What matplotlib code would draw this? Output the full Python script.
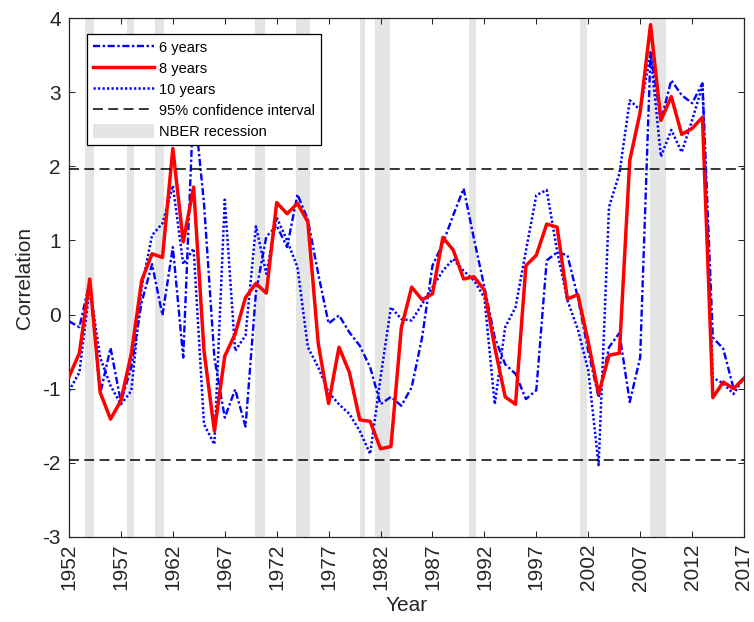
import numpy as np
import matplotlib.pyplot as plt
from matplotlib.patches import Patch

plt.rcParams['font.family'] = ['Liberation Sans', 'DejaVu Sans']

# rolling-window correlations, one value per year
years = np.arange(1952, 2018)

corr_6yr = [-0.09, -0.17, 0.45, -1.07, -0.45, -1.18, -0.71, 0.17, 0.68, -0.01,
            0.91, -0.58, 2.90, 1.50, -0.58, -1.39, -1.01, -1.51, 0.30, 1.05,
            1.20, 0.91, 1.62, 1.28, 0.55, -0.12, -0.01, -0.24, -0.42, -0.71,
            -1.21, -1.11, -1.23, -0.98, -0.31, 0.66, 0.96, 1.34, 1.70, 1.02,
            0.37, -0.31, -0.67, -0.80, -1.14, -1.02, 0.73, 0.84, 0.80, 0.23,
            -0.49, -1.12, -0.44, -0.25, -1.18, -0.58, 3.54, 2.62, 3.16, 2.96,
            2.85, 3.12, -0.31, -0.46, -1.00, -0.85]

corr_8yr = [-0.84, -0.52, 0.48, -1.05, -1.41, -1.16, -0.53, 0.46, 0.82, 0.77,
            2.24, 0.98, 1.72, -0.49, -1.57, -0.56, -0.26, 0.23, 0.42, 0.29,
            1.51, 1.36, 1.50, 1.25, -0.39, -1.20, -0.44, -0.78, -1.42, -1.44,
            -1.81, -1.78, -0.18, 0.37, 0.20, 0.28, 1.04, 0.87, 0.48, 0.51,
            0.33, -0.44, -1.11, -1.21, 0.66, 0.80, 1.22, 1.18, 0.21, 0.27,
            -0.37, -1.07, -0.55, -0.52, 2.08, 2.73, 3.91, 2.62, 2.94, 2.43,
            2.51, 2.66, -1.12, -0.91, -1.00, -0.86]

corr_10yr = [-1.03, -0.78, 0.37, -0.58, -0.96, -1.21, -1.03, 0.37, 1.07, 1.23,
             1.74, 0.68, 0.89, -1.48, -1.75, 1.55, -0.49, -0.28, 1.19, 0.55,
             1.31, 1.00, 0.64, -0.44, -0.71, -1.05, -1.21, -1.34, -1.57, -1.88,
             -0.85, 0.10, -0.06, -0.08, 0.14, 0.37, 0.59, 0.75, 0.59, 0.46,
             0.23, -1.21, -0.17, 0.10, 0.86, 1.61, 1.68, 0.86, 0.19, -0.20,
             -0.75, -2.03, 1.45, 1.90, 2.89, 2.76, 3.52, 2.13, 2.49, 2.19,
             2.62, 3.09, -0.85, -0.93, -1.07, -0.85]

# NBER recession periods (peak to trough)
rec_start = [1953.5, 1957.6, 1960.3, 1969.9, 1973.9, 1980.0, 1981.5, 1990.5, 2001.2, 2007.9]
rec_end = [1954.4, 1958.3, 1961.1, 1970.9, 1975.2, 1980.5, 1982.9, 1991.2, 2001.9, 2009.5]

conf_bound = 1.96
xtick_years = np.arange(1952, 2018, 5)
ytick_vals = np.arange(-3, 5)

axis_color = '#262626'
rec_color = '#e5e5e5'

fig = plt.figure(figsize=(7.54, 6.22), dpi=100)
ax = fig.add_axes([69 / 754, 1 - 537 / 622, 675 / 754, 519 / 622])

for s, e in zip(rec_start, rec_end):
    ax.axvspan(s, e, color=rec_color, lw=0, zorder=0)

l6, = ax.plot(years, corr_6yr, color='#0000ff', lw=1.7,
              dashes=(3, 1.1, 1, 1.1), zorder=3)
l8, = ax.plot(years, corr_8yr, color='#ff0000', lw=2.5, zorder=4)
l10, = ax.plot(years, corr_10yr, color='#0000ff', lw=1.8,
               dashes=(0.9, 0.9), zorder=3)
lc, = ax.plot([1952, 2017], [conf_bound, conf_bound], color='black', lw=1.1,
              dashes=(6.5, 3.5), zorder=5)
ax.plot([1952, 2017], [-conf_bound, -conf_bound], color='black', lw=1.1,
        dashes=(6.5, 3.5), zorder=5)

ax.set_xlim(1952, 2017)
ax.set_ylim(-3, 4)
ax.set_xticks(xtick_years)
ax.set_xticklabels([str(y) for y in xtick_years], rotation=90)
ax.set_yticks(ytick_vals)
ax.set_yticklabels([str(v) for v in ytick_vals])
ax.tick_params(direction='in', top=True, right=True, length=4.5, width=0.75,
               colors=axis_color, labelsize=15)
ax.tick_params(axis='y', pad=6)
ax.tick_params(axis='x', pad=5)
for sp in ax.spines.values():
    sp.set_color(axis_color)
    sp.set_linewidth(0.9)

ax.set_xlabel('Year', fontsize=15, color=axis_color, labelpad=4)
ax.set_ylabel('Correlation', fontsize=15, color=axis_color, labelpad=6)

rec_patch = Patch(facecolor=rec_color, edgecolor='none')
leg = ax.legend([l6, l8, l10, lc, rec_patch],
                ['6 years', '8 years', '10 years', '95% confidence interval', 'NBER recession'],
                loc='upper left', bbox_to_anchor=(18 / 675, 1 - 16 / 519),
                borderaxespad=0, fontsize=10.5, handlelength=4.2, handletextpad=0.3,
                labelspacing=0.45, borderpad=0.42, fancybox=False, framealpha=1,
                edgecolor='black', handleheight=1.0)
leg.get_frame().set_linewidth(0.9)
leg.set_zorder(10)

fig.savefig('out.png', dpi=100)
